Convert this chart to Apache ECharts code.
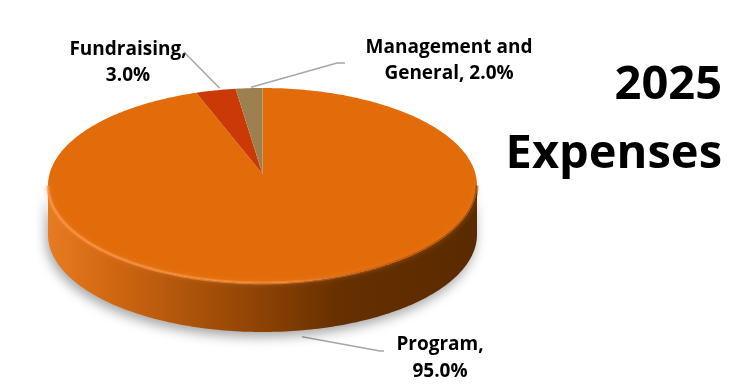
<!DOCTYPE html>
<html><head><meta charset="utf-8">
<script src="https://cdn.jsdelivr.net/npm/echarts@6/dist/echarts.min.js"></script>
<style>html,body{margin:0;padding:0;background:#fff}#c{width:733px;height:386px}</style>
</head><body><div id="c"></div>
<script>
// ---- data ----
const categories = ['Program', 'Fundraising', 'Management and\nGeneral'];
const values = [95.0, 3.0, 2.0];
const titleLines = ['2025', 'Expenses'];

// ---- styles / layout ----
const topColors = ['#E36C0A', '#CB3A06', '#9D8050'];
const sideStops = [
  [[0, '#E67B22'], [0.14, '#D26812'], [0.5, '#8C4204'], [0.68, '#663000'], [1, '#5A2A00']],
  [[0, '#A02C04'], [1, '#5A1800']],
  [[0, '#7D6640'], [1, '#4F3F26']]
];
const geo = {cx: 262.5, cy: 185.5, rx: 214.5, ry: 97.5, h: 49, ax: 262.5, ay: 174};
const FONT = '"Open Sans", Lato, sans-serif';

const total = values.reduce((a, b) => a + b, 0);
const starts = []; let acc = 0;
values.forEach(v => { starts.push(acc / total * 360); acc += v; });

function pt(tDeg, dy) {
  const t = tDeg * Math.PI / 180;
  return [geo.cx + geo.rx * Math.sin(t), geo.cy - geo.ry * Math.cos(t) + (dy || 0)];
}
function arc(a, b, dy) {
  const pts = []; const n = Math.max(2, Math.ceil(Math.abs(b - a)));
  for (let i = 0; i <= n; i++) pts.push(pt(a + (b - a) * i / n, dy));
  return pts;
}
function labelText(i) {
  const name = categories[i];
  const pct = values[i].toFixed(1) + '%';
  return name.indexOf('\n') >= 0 ? name + ', ' + pct : name + ',\n' + pct;
}
function midAngle(i) { return starts[i] + values[i] / total * 180; }

const chart = echarts.init(document.getElementById('c'), null, {renderer: 'canvas'});

// label anchors derived from slice geometry
const fA = pt(midAngle(1), 0), mA = pt(midAngle(2), 0), pA = pt(midAngle(0), geo.h);

const option = {
  backgroundColor: '#ffffff',
  animation: false,
  series: [{
    type: 'custom',
    coordinateSystem: 'none',
    data: values.map((v, i) => ({name: categories[i], value: v, itemStyle: {color: topColors[i]}})),
    renderItem: function (params, api) {
      const i = params.dataIndex;
      const a = starts[i], b = a + api.value(0) / total * 360;
      const children = [];
      const sa = Math.max(a, 90), sb = Math.min(b, 270);
      if (sb > sa) {
        const top = arc(sa, sb, 0), bot = arc(sb, sa, geo.h);
        children.push({
          type: 'polygon', z2: 1, shape: {points: top.concat(bot)},
          style: {
            fill: {type: 'linear', x: 0, y: 0, x2: 1, y2: 0,
              colorStops: sideStops[i].map(s => ({offset: s[0], color: s[1]}))},
            shadowBlur: 12, shadowColor: 'rgba(0,0,0,0.35)', shadowOffsetY: 5, shadowOffsetX: -2
          }
        });
        children.push({
          type: 'polyline', z2: 3, shape: {points: arc(sa, sb, 0)},
          style: {
            fill: null, lineWidth: 3,
            stroke: {type: 'linear', x: 0, y: 0, x2: 1, y2: 0, colorStops: [
              {offset: 0, color: 'rgba(250,150,70,0.7)'},
              {offset: 0.55, color: 'rgba(250,150,70,0.55)'},
              {offset: 0.8, color: 'rgba(150,65,0,0.4)'},
              {offset: 1, color: 'rgba(90,40,0,0.5)'}]},
            shadowBlur: 4, shadowColor: 'rgba(255,150,70,0.5)'
          }
        });
      }
      children.push({
        type: 'polygon', z2: 2,
        shape: {points: [[geo.ax, geo.ay]].concat(arc(a, b, 0))},
        style: {fill: api.visual('color')}
      });
      return {type: 'group', children: children};
    }
  }],
  graphic: [
    {type: 'polyline', shape: {points: [[184, 52], [fA[0] + 4, fA[1] - 2]]}, style: {stroke: '#A6A6A6', lineWidth: 1.5, fill: null}},
    {type: 'polyline', shape: {points: [[345, 63], [337, 63], [mA[0] + 2, mA[1] - 1]]}, style: {stroke: '#A6A6A6', lineWidth: 1.5, fill: null}},
    {type: 'polyline', shape: {points: [[pA[0] + 6, pA[1] + 6], [380, 351], [384, 351]]}, style: {stroke: '#A6A6A6', lineWidth: 1.5, fill: null}},
    {type: 'text', x: 128, y: 37, style: {text: labelText(1), font: 'bold 19px ' + FONT, fill: '#000', align: 'center', verticalAlign: 'top', lineHeight: 26}},
    {type: 'text', x: 449, y: 35, style: {text: labelText(2), font: 'bold 19px ' + FONT, fill: '#000', align: 'center', verticalAlign: 'top', lineHeight: 26}},
    {type: 'text', x: 440, y: 331, style: {text: labelText(0), font: 'bold 19px ' + FONT, fill: '#000', align: 'center', verticalAlign: 'top', lineHeight: 27}},
    {type: 'text', x: 722, y: 62, style: {text: titleLines[0], font: 'bold 47px ' + FONT, fill: '#000', align: 'right', verticalAlign: 'top'}},
    {type: 'text', x: 722, y: 131, style: {text: titleLines[1], font: 'bold 47px ' + FONT, fill: '#000', align: 'right', verticalAlign: 'top'}}
  ]
};
chart.setOption(option);
</script>
</body></html>
